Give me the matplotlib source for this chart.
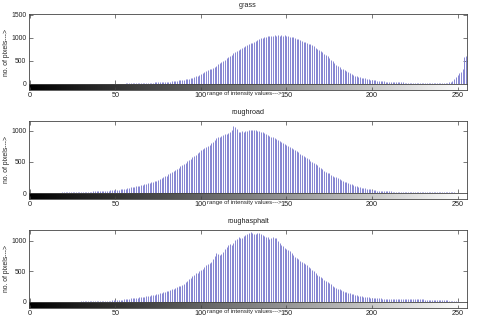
import numpy as np
import matplotlib
matplotlib.use("Agg")
import matplotlib.pyplot as plt

plt.rcParams['font.family'] = ['Liberation Sans', 'DejaVu Sans']

titles = ["grass", "roughroad", "roughasphalt"]
xlabel_text = "range of intensity values--->"
ylabel_text = "no. of pixels--->"
xticks = [0, 50, 100, 150, 200, 250]
yticks_list = [[0, 500, 1000, 1500], [0, 500, 1000], [0, 500, 1000]]
ylims = [1520, 1160, 1180]

grass = (
    [0] * 48 +
    [2, 3, 4, 5, 6, 8, 9, 10,
     11, 12, 13, 14, 15, 16, 18, 19,
     20, 21, 22, 24, 25, 27, 28, 30,
     32, 33, 35, 37, 38, 40, 42, 45,
     46, 50, 52, 58, 62, 66, 72, 78,
     84, 90, 97, 104, 110, 118, 128, 140,
     152, 165, 180, 196, 225, 240, 258, 275,
     295, 315, 335, 355, 378, 400, 428, 460,
     480, 505, 530, 560, 585, 610, 640, 665,
     690, 715, 735, 760, 785, 805, 825, 845,
     865, 880, 900, 920, 940, 955, 970, 990,
     1000, 1015, 1030, 1045, 1040, 1050, 1035, 1055,
     1050, 1060, 1045, 1065, 1050, 1055, 1040, 1035,
     1030, 1010, 1020, 990, 985, 975, 960, 935,
     920, 905, 890, 870, 860, 845, 820, 790,
     765, 740, 715, 690, 660, 630, 600, 565,
     530, 500, 455, 420, 390, 360, 335, 315,
     300, 275, 250, 230, 210, 195, 180, 170,
     160, 150, 140, 132, 125, 115, 105, 95,
     87, 84, 80, 76, 72, 66, 60, 55,
     50, 48, 46, 44, 42, 40, 38, 36,
     35, 34, 33, 32, 32, 31, 30, 30,
     30, 29, 30, 31, 30, 29, 30, 30,
     31, 30, 29, 30, 31, 30, 29, 30,
     30, 31, 30, 30, 32, 34, 36, 60,
     110, 160, 200, 230, 270, 320, 590, 600]
)

roughroad = [
    0, 0, 0, 0, 0, 0, 0, 1, 2, 3, 4, 5, 5, 6, 6, 7,
    7, 8, 8, 9, 9, 10, 10, 11, 11, 12, 13, 14, 15, 16, 17, 18,
    19, 20, 21, 22, 23, 25, 26, 27, 29, 30, 32, 33, 35, 37, 39, 41,
    44, 46, 50, 52, 56, 60, 64, 68,
    72, 78, 84, 90, 96, 100, 106, 112,
    118, 125, 132, 140, 148, 155, 162, 170,
    180, 190, 200, 212, 225, 240, 255, 270,
    280, 300, 320, 340, 355, 370, 390, 410,
    430, 450, 470, 490, 510, 530, 555, 575,
    590, 615, 640, 660, 690, 705, 725, 745,
    760, 775, 800, 820, 850, 880, 895, 910,
    925, 935, 945, 950, 960, 980, 1010, 1075,
    1060, 1030, 990, 980, 995, 990, 1005, 1000,
    1015, 1010, 1020, 1010, 1015, 1005, 995, 985,
    975, 960, 955, 940, 925, 910, 900, 890,
    870, 855, 835, 820, 805, 785, 770, 755,
    740, 725, 710, 695, 675, 655, 635, 615,
    595, 585, 560, 540, 520, 500, 480, 463,
    445, 420, 400, 380, 360, 345, 330, 315,
    295, 280, 263, 250, 235, 220, 205, 195,
    183, 170, 160, 148, 138, 128, 118, 110,
    102, 95, 88, 82, 75, 70, 63, 58,
    52, 48, 43, 40, 37, 34, 32, 30,
    28, 27, 26, 25, 24, 23, 22, 21,
    20, 19, 18, 17, 16, 16, 15, 15,
    14, 14, 13, 13, 12, 12, 12, 11,
    11, 11, 10, 10, 10, 10, 10, 10,
    10, 10, 9, 9, 9, 9, 9, 9,
    9, 8, 8, 8, 8, 8, 8, 8,
]

roughasphalt = [
    0, 0, 0, 0, 0, 0, 0, 0, 0, 0, 1, 2, 2, 3, 3, 3,
    4, 4, 4, 5, 5, 5, 6, 6, 6, 7, 7, 7, 8, 8, 9, 9,
    10, 10, 11, 11, 12, 12, 13, 14, 15, 16, 17, 18, 19, 20, 22, 24,
    26, 28, 32, 30, 34, 36, 40, 42,
    45, 50, 54, 58, 60, 64, 68, 72,
    76, 80, 85, 90, 95, 100, 104, 108,
    115, 120, 128, 135, 142, 150, 160, 170,
    175, 185, 195, 205, 215, 225, 240, 255,
    265, 275, 300, 320, 345, 370, 390, 420,
    440, 470, 480, 500, 525, 540, 570, 600,
    620, 640, 660, 700, 760, 800, 780, 770,
    780, 820, 870, 905, 930, 950, 935, 970,
    1015, 1040, 1060, 1050, 1055, 1075, 1090, 1110,
    1130, 1140, 1125, 1110, 1120, 1125, 1125, 1110,
    1095, 1080, 1070, 1060, 1040, 1050, 1060, 1050,
    1050, 1000, 970, 935, 910, 890, 870, 850,
    830, 800, 775, 745, 725, 700, 680, 660,
    640, 620, 600, 580, 555, 525, 500, 470,
    450, 430, 410, 390, 365, 345, 325, 305,
    290, 270, 250, 235, 220, 205, 192, 180,
    170, 160, 150, 143, 135, 127, 120, 113,
    105, 98, 93, 89, 85, 80, 77, 73,
    70, 68, 66, 63, 60, 58, 57, 56,
    55, 54, 53, 52, 51, 50, 49, 49,
    48, 47, 47, 46, 46, 45, 45, 44,
    44, 43, 43, 42, 42, 41, 41, 40,
    40, 39, 39, 38, 38, 37, 36, 35,
    33, 31, 29, 27, 25, 23, 21, 19,
    17, 16, 12, 8, 5, 3, 1, 0,
]

series = [grass, roughroad, roughasphalt]
bins = np.arange(256)

W, H = 480, 319
fig = plt.figure(figsize=(W / 100, H / 100), dpi=100)

# pixel layout (top, bottom) of each histogram axes
layout = [(14, 84), (121, 193), (230, 302)]
left_px, right_px = 29, 467
cbar_h = 6
fs = 5.2
frame_col = '#444444'

for i, (vals, title) in enumerate(zip(series, titles)):
    top, bot = layout[i]
    ax = fig.add_axes([left_px / W, 1 - bot / H, (right_px - left_px) / W, (bot - top) / H])
    cax = fig.add_axes([left_px / W, 1 - (bot + cbar_h) / H, (right_px - left_px) / W, cbar_h / H])

    ax.vlines(bins, 0, np.asarray(vals), colors='#8585d2', linewidth=0.7)
    ax.set_xlim(-0.5, 255.5)
    ax.set_ylim(0, ylims[i])
    ax.set_xticks(xticks)
    ax.set_xticklabels([])
    ax.set_yticks(yticks_list[i])
    ax.set_yticklabels([str(t) for t in yticks_list[i]], fontsize=4.9)
    ax.tick_params(direction='in', length=3, width=0.5, top=True, right=True,
                   bottom=True, left=True, pad=2, colors=frame_col, labelcolor='#222222')
    for sp in ax.spines.values():
        sp.set_linewidth(0.6)
        sp.set_color(frame_col)
    ax.set_title(title, fontsize=fs, pad=5, color='#222222')

    grad = np.linspace(0, 1, 256)[None, :]
    cax.imshow(grad, aspect='auto', cmap='gray', extent=[-0.5, 255.5, 0, 1])
    cax.set_xlim(-0.5, 255.5)
    cax.set_yticks([])
    cax.set_xticks(xticks)
    cax.set_xticklabels([str(t) for t in xticks], fontsize=fs)
    cax.tick_params(direction='in', length=2, width=0.5, pad=1.5, colors=frame_col,
                    labelcolor='#222222')
    for sp in cax.spines.values():
        sp.set_linewidth(0.6)
        sp.set_color(frame_col)

    fig.text(244 / W, 1 - (bot + 9.5) / H, xlabel_text, fontsize=4.3,
             ha='center', va='center', color='#222222')
    fig.text(7 / W, 1 - ((top + bot + cbar_h) / 2) / H, ylabel_text, fontsize=4.9,
             rotation=90, ha='center', va='center', color='#222222')

fig.savefig('out.png', dpi=100, facecolor='white')
